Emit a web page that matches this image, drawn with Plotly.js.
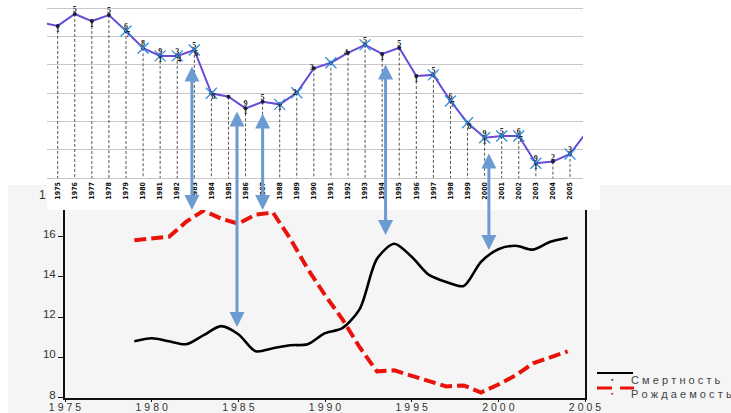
<!DOCTYPE html>
<html><head><meta charset="utf-8">
<script src="https://cdn.plot.ly/plotly-3.0.1.min.js"></script>
<style>html,body{margin:0;padding:0;background:#fff}#chart{width:731px;height:413px}</style>
</head><body><div id="chart"></div>
<script>
// ---------- DATA: top chart (cycle index, arbitrary units) ----------
const years = [1974,1975,1976,1977,1978,1979,1980,1981,1982,1983,1984,1985,1986,1987,1988,1989,1990,
               1991,1992,1993,1994,1995,1996,1997,1998,1999,2000,2001,2002,2003,2004,2005,2006];
const indexValues = [5.5,5.38,5.80,5.55,5.76,5.20,4.59,4.32,4.32,4.53,3.00,2.88,2.47,2.70,2.61,3.02,3.88,
                     4.08,4.43,4.71,4.39,4.61,3.61,3.65,2.73,1.96,1.43,1.49,1.49,0.53,0.59,0.86,1.65];
const tickYears = [1975,1976,1977,1978,1979,1980,1981,1982,1983,1984,1985,1986,1987,1988,1989,1990,
                   1991,1992,1993,1994,1995,1996,1997,1998,1999,2000,2001,2002,2003,2004,2005];
const labelsTop    = {1976:'5',1978:'5',1979:'6',1980:'8',1981:'9',1982:'3',1983:'5',1986:'9',1987:'5',
                      1993:'5',1995:'5',1997:'5',1998:'6',2000:'9',2001:'5',2002:'6',2003:'9',2004:'2',2005:'3'};
const labelsBelow  = {1975:'1',1977:'1',1981:'1',1986:'1',1988:'1',1994:'1',1996:'1',2000:'1',2003:'1'};
const labelsRight  = {1979:'7',1982:'4',1983:'6',1984:'8',1998:'7',1999:'8',2002:'7'};
const labelsLeft   = {1989:'2',1990:'3',1992:'4'};
const markedYears  = [1979,1980,1981,1982,1983,1984,1988,1989,1991,1993,1997,1998,1999,2000,2001,2002,2003,2005];

// ---------- DATA: bottom chart (per 1000) ----------
const demoYears = [1979,1980,1981,1982,1983,1984,1985,1986,1987,1988,1989,1990,1991,1992,1993,1994,
                   1995,1996,1997,1998,1999,2000,2001,2002,2003,2004];
const mortality = [10.8,10.95,10.8,10.65,11.1,11.55,11.15,10.3,10.45,10.6,10.65,11.2,11.45,12.4,14.9,15.65,
                   15.0,14.1,13.75,13.55,14.75,15.38,15.55,15.36,15.75,15.95];
const births    = [15.82,15.9,16.0,16.75,17.3,16.9,16.65,17.1,17.2,15.9,14.4,13.1,11.9,10.5,9.3,9.35,
                   9.1,8.8,8.55,8.6,8.25,8.65,9.1,9.7,10.0,10.3];
const bottomTicks = [1975,1980,1985,1990,1995,2000,2005];
const yTicks = [8,10,12,14,16];
const legendNames = ['Смертность','Рождаемость'];
const arrowYears = [1982.86,1985.5,1987.0,1994.2,2000.25];

// ---------- helpers / layout ----------
const W = 731, H = 413;
const px = x => x / W;
const py = y => 1 - y / H;
const spaced = (s, gap) => s.split('').join(gap);
const valueOf = y => indexValues[years.indexOf(y)];

function textTrace(map, pos) {
  const ks = Object.keys(map).map(Number);
  return {x: ks, y: ks.map(valueOf), text: ks.map(k => map[k]), mode: 'text', textposition: pos,
          textfont: {family: 'Liberation Serif', size: 8, color: '#222', weight: 'bold'},
          xaxis: 'x', yaxis: 'y', hoverinfo: 'skip', cliponaxis: false};
}

const dropX = [], dropY = [];
tickYears.forEach(y => { dropX.push(y, y, null); dropY.push(valueOf(y), 0, null); });

const traces = [
  {x: dropX, y: dropY, mode: 'lines', line: {color: '#555', width: 1, dash: '3px,2px'}, xaxis: 'x', yaxis: 'y', hoverinfo: 'skip'},
  {x: years, y: indexValues, mode: 'lines+markers', line: {color: '#6a4bd6', width: 2},
   marker: {size: 4, color: '#1c1c3a'}, xaxis: 'x', yaxis: 'y'},
  {x: markedYears, y: markedYears.map(valueOf), mode: 'markers',
   marker: {symbol: 'x-thin', size: 11, line: {color: '#2f8ee0', width: 1.3}}, xaxis: 'x', yaxis: 'y', hoverinfo: 'skip'},
  textTrace(labelsTop, 'top center'),
  textTrace(labelsBelow, 'bottom center'),
  textTrace(labelsRight, 'bottom right'),
  textTrace(labelsLeft, 'middle left'),
  {x: demoYears, y: mortality, mode: 'lines', line: {color: '#000', width: 2.6, shape: 'spline', smoothing: 0.8},
   xaxis: 'x2', yaxis: 'y2', name: legendNames[0]},
  {x: demoYears, y: births, mode: 'lines', line: {color: '#e8140c', width: 4, dash: '12px,5px'},
   xaxis: 'x2', yaxis: 'y2', name: legendNames[1]}
];

const arrowSpans = [[65,210],[110,327],[112,210],[63,235],[152,250]];
const annotations = arrowYears.map((yr, i) => ({
  xref: 'x', yref: 'paper', x: yr, y: py(arrowSpans[i][1]), ax: 0, ay: -(arrowSpans[i][1] - arrowSpans[i][0]),
  axref: 'pixel', ayref: 'pixel', text: '', showarrow: true, arrowside: 'end+start',
  arrowhead: 2, startarrowhead: 2, arrowsize: 1, startarrowsize: 1, arrowwidth: 3, arrowcolor: '#6c9bd2'
}));
annotations.push(
  {xref: 'paper', yref: 'paper', x: px(48), y: py(195), xanchor: 'right', yanchor: 'middle', showarrow: false,
   text: '1', font: {family: 'Liberation Sans', size: 12, color: '#333'}},
  {xref: 'paper', yref: 'paper', x: px(609), y: py(379), xanchor: 'left', yanchor: 'middle', showarrow: false,
   text: '▪', font: {size: 7, color: '#333'}},
  {xref: 'paper', yref: 'paper', x: px(629), y: py(380), xanchor: 'left', yanchor: 'middle', showarrow: false,
   text: spaced(legendNames[0], '\u2009\u200A'), font: {family: 'Liberation Sans', size: 11, color: '#444'}},
  {xref: 'paper', yref: 'paper', x: px(609), y: py(393), xanchor: 'left', yanchor: 'middle', showarrow: false,
   text: '▪', font: {size: 7, color: '#e8140c'}},
  {xref: 'paper', yref: 'paper', x: px(629), y: py(394), xanchor: 'left', yanchor: 'middle', showarrow: false,
   text: spaced(legendNames[1], '\u2009\u200A'), font: {family: 'Liberation Sans', size: 11, color: '#444'}}
);

const shapes = [
  {type: 'rect', xref: 'paper', yref: 'paper', x0: px(8), x1: 1, y0: 0, y1: py(185),
   fillcolor: '#f5f5f5', line: {width: 0}, layer: 'below'},
  {type: 'rect', xref: 'paper', yref: 'paper', x0: px(47), x1: px(600), y0: py(210), y1: py(183),
   fillcolor: '#ffffff', line: {width: 0}, layer: 'below'},
  {type: 'line', xref: 'paper', yref: 'paper', x0: px(597), x1: px(633), y0: py(373), y1: py(373),
   line: {color: '#000', width: 2}},
  {type: 'line', xref: 'paper', yref: 'paper', x0: px(597), x1: px(634), y0: py(388), y1: py(388),
   line: {color: '#e8140c', width: 3, dash: '15px,8px'}}
];

const layout = {
  width: W, height: H, margin: {l: 0, r: 0, t: 0, b: 0},
  paper_bgcolor: '#ffffff', plot_bgcolor: 'rgba(0,0,0,0)', showlegend: false,
  xaxis: {domain: [px(47), px(583)], range: [1974.374, 2005.761], anchor: 'y',
          tickvals: tickYears, ticktext: tickYears.map(String), tickangle: -90,
          tickfont: {family: 'DejaVu Sans Condensed', size: 7, color: '#111', weight: 'bold'},
          showgrid: false, zeroline: false, showline: false, ticks: ''},
  yaxis: {domain: [py(179.7), py(6.9)], range: [-0.05, 6.05], anchor: 'x',
          tickvals: [0,1,2,3,4,5,6], showticklabels: false, gridcolor: '#c8c8c8', gridwidth: 1,
          zeroline: false, showline: false},
  xaxis2: {domain: [px(65), px(585)], range: [1975, 2005], anchor: 'y2',
           tickvals: bottomTicks, ticktext: bottomTicks.map(t => spaced(String(t), '\u2009\u200A')),
           tickfont: {family: 'Liberation Sans', size: 10.5, color: '#333'},
           showline: true, linecolor: '#111', linewidth: 2, ticks: 'outside', ticklen: 2, tickcolor: '#111',
           ticklabelstandoff: -3, showgrid: false, zeroline: false},
  yaxis2: {domain: [py(397.5), py(210)], range: [8, 17.33], anchor: 'x2',
           tickvals: yTicks, ticktext: yTicks.map(String),
           tickfont: {family: 'Liberation Sans', size: 11.5, color: '#333'},
           showline: true, linecolor: '#111', linewidth: 2, mirror: true, ticks: 'outside', ticklen: 5,
           tickcolor: '#111', ticklabelshift: -3, showgrid: false, zeroline: false},
  shapes: shapes,
  annotations: annotations
};

Plotly.newPlot('chart', traces, layout, {staticPlot: true, displayModeBar: false});
</script></body></html>
